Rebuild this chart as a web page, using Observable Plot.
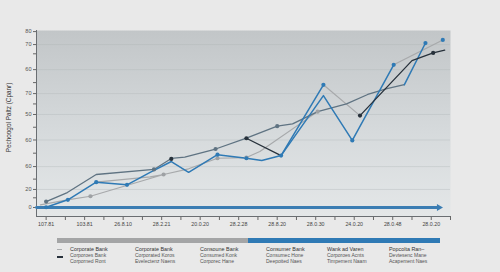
<!DOCTYPE html>
<html><head><meta charset="utf-8">
<script src="https://cdn.jsdelivr.net/npm/d3@7"></script>
<script src="https://cdn.jsdelivr.net/npm/@observablehq/plot@0.6"></script>
<style>
html,body{margin:0;padding:0;background:#e9e9e9;}
body{width:500px;height:272px;overflow:hidden;font-family:"Liberation Sans",Arial,sans-serif;}
#legend{position:relative;width:500px;height:40px;}
#legend .bar{position:absolute;top:6.3px;height:4.4px;}
#legend .sw{position:absolute;left:56.7px;}
#legend .col{position:absolute;top:14.2px;width:64px;line-height:6.1px;white-space:nowrap;}
#legend .l1{font-size:5.4px;color:#333;}
#legend .l2{font-size:5px;color:#555;}
</style></head><body>
<div id="chart"></div>
<div id="legend"></div>
<script>
// ---- data ----
const xTickLabels = ["107.81","103.81","26.8.10","28.2.21","20.0.20","28.2.28","28.8.20","28.0.30","24.0.20","28.0.48","28.0.20"];
const yTickValues = [0, 8.2, 18.6, 30.7, 42.3, 51.8, 62.7, 74.1, 80];
const yTickLabels = ["0","20","60","60","50","70","60","70","80"];
const yMinorTicks = [4.4, 12.9, 24.7, 36.5, 47.1, 56.8, 69.9];
const yTitle = "Pechoogol Paltz (Cpanr)";

const slateX = [0, 1.1, 2.6, 5.6, 6.5, 7.2, 8.8, 10.4, 12.0, 12.8, 14.1, 15.6, 16.7, 17.7, 18.6];
const slateY = [2.7, 6.8, 15.0, 17.3, 22.3, 22.9, 26.6, 31.5, 37.0, 38.0, 43.6, 47.1, 51.4, 54.1, 55.9];
const slateDot = [1,0,0,1,0,0,1,0,1,0,0,0,0,0,0];

const blueX = [0, 1.13, 2.6, 4.2, 5.4, 6.5, 7.4, 8.9, 10.4, 11.2, 12.2, 14.4, 15.9, 18.05];
const blueY = [0.1, 3.5, 11.5, 10.3, 16.0, 20.9, 16.0, 24.0, 22.4, 21.4, 23.6, 50.9, 30.5, 64.9];
const blueDot = [1,1,1,1,0,0,0,1,1,0,1,0,1,1];

const blue2X = [12.2, 14.4, 16, 18.6, 19.7, 20.2, 20.6];
const blue2Y = [23.6, 55.8, null, 55.8, 74.8, null, 76.2];
const blue2Dot = [0,1,0,0,1,0,1];

const grayX = [-0.3, 1.1, 2.3, 6.1, 7.4, 8.9, 10.4, 11.1, 14.1, 14.3, 14.4, 16.3, 17, 18.05, 20.6, 20.6, 2.6, 5.4, 6.1];
const grayY = [1.2, 3.5, 5.1, 15.0, 17.6, 22.4, 22.7, 25.5, 43.6, null, 55.8, 41.8, null, 64.9, 76.2, null, 11.5, 13.9, 15.0];
const grayDot = [0,0,1,1,0,1,1,0,1,0,0,0,0,0,0,0,0,0,0];

const blackX = [6.5, 8, 10.4, 12.2, 14, 16.3, 19.0, 20.1, 20.7];
const blackY = [22.1, null, 31.5, 23.6, null, 41.8, 66.8, 70.3, 71.6];
const blackDot = [1,0,1,0,0,1,0,1,0];

const baseX = [-0.5, 20.4];
const baseY = [0, 0];

const legendTitles = ["Corporate Bank","Corporate Bank","Consoune Bank","Consumer Bank","Wank ad Varen","Popcolta Ran–"];
const legendLine2 = ["Corporoes Bank","Corporated Koros","Consumed Konk","Consumec Hone","Corporoes Acnts","Devtesenc Mane"];
const legendLine3 = ["Corporned Ront","Evelectenz Naens","Corporec Hane","Deepoited Naes","Timpement Naam","Acapement Naes"];

// ---- build ----
const mk = (xs, ys, ds) => xs.map((x, i) => ({x, y: ys[i], dot: ds ? ds[i] : 0}));
const slate = mk(slateX, slateY, slateDot);
const blue = mk(blueX, blueY, blueDot);
const blue2 = mk(blue2X, blue2Y, blue2Dot);
const gray = mk(grayX, grayY, grayDot);
const black = mk(blackX, blackY, blackDot);
const base = mk(baseX, baseY);

const C = {slate:"#5f7382", blue:"#2f7ab5", gray:"#a7a9ab", black:"#27313b", base:"#3b7db3"};
const lineOpts = (c, w) => ({x:"x", y:"y", stroke:c, strokeWidth:w, curve:"linear"});
const dotOpts = (c) => ({filter: d => d.dot && d.y != null, x:"x", y:"y", r:2.1, fill:c, stroke:"none"});

const chart = Plot.plot({
  width: 500, height: 232,
  marginLeft: 36, marginRight: 50, marginTop: 30, marginBottom: 16,
  style: {background: "#e9e9e9", fontFamily: "Liberation Sans, Arial, sans-serif", color: "#555"},
  x: {domain: [-0.5, 21], label: null},
  y: {domain: [-4.1, 80.5], label: null},
  marks: [
    Plot.frame({fill: "#d4d8da", stroke: "none"}),
    Plot.ruleY(yTickValues.slice(1, -1), {stroke: "#aeb3b6", strokeOpacity: 0.45, strokeWidth: 0.8}),
    Plot.axisY({ticks: yMinorTicks, tickSize: 3, tickFormat: () => "", stroke: "#666", label: null}),
    Plot.axisY({ticks: yTickValues, tickSize: 3, tickPadding: 2, fontSize: 5.6, fill: "#555", stroke: "#666",
      tickFormat: v => yTickLabels[yTickValues.indexOf(v)], label: null}),
    Plot.axisX({ticks: d3.range(0, 22), tickSize: 4, tickPadding: 2, fontSize: 5.3, fill: "#444", stroke: "#666",
      tickFormat: i => (i % 2 === 0 ? xTickLabels[i / 2] : ""), label: null}),
    Plot.ruleX([-0.5], {stroke: "#6a6e72", strokeWidth: 1}),
    Plot.ruleY([-4.1], {stroke: "#6a6e72", strokeWidth: 1}),
    Plot.text([yTitle], {frameAnchor: "left", textAnchor: "middle", dx: -28, dy: -6, rotate: -90, fontSize: 6.4, fill: "#333"}),
    Plot.line(base, lineOpts(C.base, 2.8)),
    Plot.dot([base[base.length - 1]], {x: "x", y: "y", symbol: "triangle", r: 2.6, rotate: 90, fill: C.base}),
    Plot.line(gray, lineOpts(C.gray, 1.2)),
    Plot.line(slate, lineOpts(C.slate, 1.3)),
    Plot.line(blue, lineOpts(C.blue, 1.5)),
    Plot.line(blue2, lineOpts(C.blue, 1.5)),
    Plot.line(black, lineOpts(C.black, 1.3)),
    Plot.dot(gray, dotOpts("#9ea1a4")),
    Plot.dot(slate, dotOpts(C.slate)),
    Plot.dot(blue, dotOpts(C.blue)),
    Plot.dot(blue2, dotOpts(C.blue)),
    Plot.dot(black, dotOpts(C.black))
  ]
});

// gradient background for plot area
const ns = "http://www.w3.org/2000/svg";
const defs = document.createElementNS(ns, "defs");
defs.innerHTML = '<linearGradient id="bgGrad" x1="0" y1="0" x2="0" y2="1"><stop offset="0" stop-color="#c2c6c8"/><stop offset="0.55" stop-color="#d6dadc"/><stop offset="1" stop-color="#e4e7e8"/></linearGradient>';
chart.insertBefore(defs, chart.firstChild);
const fr = chart.querySelector('[aria-label="frame"]');
if (fr) { const r = fr.tagName.toLowerCase() === "rect" ? fr : fr.querySelector("rect"); if (r) r.setAttribute("fill", "url(#bgGrad)"); }
document.getElementById("chart").appendChild(chart);

// legend
const lg = document.getElementById("legend");
const colLeft = [70, 135, 200, 266, 327, 389];
lg.innerHTML =
  '<div class="bar" style="left:56.7px;width:191.6px;background:#a4a5a6"></div>' +
  '<div class="bar" style="left:248.3px;width:191.7px;background:#2f7ab5"></div>' +
  '<div class="sw" style="top:16.5px;width:5px;height:1.6px;background:#a9abad"></div>' +
  '<div class="sw" style="top:23.7px;width:6.6px;height:2.6px;background:#27313b"></div>' +
  legendTitles.map((t, i) =>
    `<div class="col" style="left:${colLeft[i]}px"><div class="l1">${t}</div><div class="l2">${legendLine2[i]}</div><div class="l2">${legendLine3[i]}</div></div>`
  ).join("");
</script>
</body></html>
